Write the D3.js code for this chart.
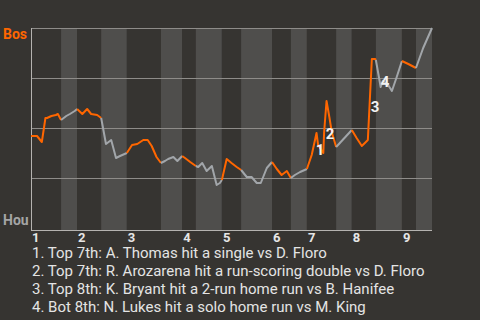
<!DOCTYPE html>
<html lang="en">
<head>
<meta charset="UTF-8">
<title>Win probability</title>
<script src="https://d3js.org/d3.v7.min.js"></script>
<style>
  html, body { margin: 0; padding: 0; background: #363431; }
  svg { display: block; font-family: Roboto, "Noto Sans", sans-serif; }
</style>
</head>
<body>
<svg width="480" height="320"></svg>
<script>
// innings and where each half-inning starts (game progress, 0-100)
var innings = ['1', '2', '3', '4', '5', '6', '7', '8', '9'];
var halfStarts = [0, 7.5, 11.5, 17.5, 23.9, 32.4, 37.7, 41.1, 47.6, 52.4, 60.1, 64.8, 68.8, 76.1, 80.0, 86.0, 92.5, 96.0, 100];

// win probability for Bos, per event
var progress = [0, 1.5, 2.7, 3.6, 4.0, 5.1, 6.2, 6.7, 7.5, 8.8, 9.7, 10.9, 11.5, 12.8, 14.0, 15.0, 16.5, 17.5,
  18.7, 20.0, 21.2, 22.2, 23.9, 25.2, 26.5, 28.0, 29.1, 30.1, 31.3, 32.4, 33.4, 34.2, 35.5, 36.5, 37.7,
  38.4, 39.7, 41.1, 41.7, 42.7, 43.8, 45.1, 46.3, 47.1, 47.6, 48.8, 50.0, 51.3, 52.4, 53.8, 55.0, 56.3,
  57.3, 58.8, 60.1, 61.3, 62.5, 63.8, 64.8, 65.8, 67.1, 68.8, 70.0, 71.2, 71.6, 72.9, 73.1, 73.7, 74.4,
  75.0, 76.1, 80.0, 81.2, 82.5, 84.0, 85.0, 85.8, 86.0, 87.2, 87.7, 88.9, 90.0, 91.2, 92.5, 94.1, 96.0,
  97.8, 100];
var winProb = [0.46, 0.46, 0.43, 0.55, 0.55, 0.56, 0.565, 0.57, 0.54, 0.56, 0.57, 0.585, 0.595, 0.57, 0.595, 0.57, 0.565, 0.55,
  0.42, 0.44, 0.35, 0.36, 0.375, 0.415, 0.42, 0.44, 0.44, 0.41, 0.355, 0.325, 0.335, 0.345, 0.355, 0.335, 0.36,
  0.35, 0.33, 0.31, 0.305, 0.325, 0.285, 0.31, 0.215, 0.225, 0.24, 0.345, 0.325, 0.305, 0.29, 0.255, 0.255, 0.225,
  0.225, 0.30, 0.33, 0.295, 0.265, 0.285, 0.25, 0.265, 0.28, 0.295, 0.365, 0.475, 0.415, 0.375, 0.48, 0.635, 0.555,
  0.48, 0.405, 0.49, 0.45, 0.41, 0.44, 0.845, 0.845, 0.84, 0.705, 0.735, 0.72, 0.685, 0.755, 0.835, 0.82, 0.80,
  0.90, 1.0];

// key plays: label position on the chart
var playNums = ['1', '2', '3', '4'];
var playX = [72.1, 74.6, 85.8, 88.3];
var playY = [0.365, 0.4475, 0.58, 0.7075];
var playText = [
  '1. Top 7th: A. Thomas hit a single vs D. Floro',
  '2. Top 7th: R. Arozarena hit a run-scoring double vs D. Floro',
  '3. Top 8th: K. Bryant hit a 2-run home run vs B. Hanifee',
  '4. Bot 8th: N. Lukes hit a solo home run vs M. King'
];

var awayTeam = 'Bos', homeTeam = 'Hou';

var svg = d3.select('svg');
var orange = '#ff6600', grey = '#a2a6aa';

var x = d3.scaleLinear().domain([0, 100]).range([31, 432]);
var y = d3.scaleLinear().domain([0, 1]).range([228, 28]);
var plotBottom = 230;

// half-inning stripes
var halves = d3.range(halfStarts.length - 1).map(function (i) {
  return { i: i, start: halfStarts[i], end: halfStarts[i + 1], top: i % 2 === 0 };
});
svg.append('g').selectAll('rect')
  .data(halves)
  .enter().append('rect')
  .attr('x', function (d) { return x(d.start); })
  .attr('y', y(1))
  .attr('width', function (d) { return x(d.end) - x(d.start); })
  .attr('height', plotBottom - y(1))
  .attr('fill', function (d) { return d.top ? '#363431' : '#4f4e4c'; });

// gridlines
svg.append('g').selectAll('line')
  .data([0.25, 0.5, 0.75, 1])
  .enter().append('line')
  .attr('x1', x(0)).attr('x2', x(100))
  .attr('y1', function (d) { return Math.round(y(d)) + 0.5; })
  .attr('y2', function (d) { return Math.round(y(d)) + 0.5; })
  .attr('stroke', '#8e8c89').attr('stroke-width', 1);

// axes lines
svg.append('line')
  .attr('x1', x(0) + 0.5).attr('x2', x(0) + 0.5)
  .attr('y1', y(1)).attr('y2', plotBottom + 1)
  .attr('stroke', '#b5b3b0');
svg.append('line')
  .attr('x1', x(0)).attr('x2', x(100))
  .attr('y1', plotBottom + 0.5).attr('y2', plotBottom + 0.5)
  .attr('stroke', '#b5b3b0');

// win probability line, one path per half-inning
var pts = progress.map(function (p, i) { return [p, winProb[i]]; });
var line = d3.line()
  .x(function (d) { return x(d[0]); })
  .y(function (d) { return y(d[1]); });

svg.append('g').selectAll('path')
  .data(halves)
  .enter().append('path')
  .attr('d', function (d) {
    return line(pts.filter(function (p) { return p[0] >= d.start && p[0] <= d.end; }));
  })
  .attr('fill', 'none')
  .attr('stroke', function (d) { return d.top ? orange : grey; })
  .attr('stroke-width', 2)
  .attr('stroke-linejoin', 'round');

// play markers
svg.append('g').selectAll('text')
  .data(playNums)
  .enter().append('text')
  .attr('x', function (d, i) { return x(playX[i]); })
  .attr('y', function (d, i) { return y(playY[i]); })
  .attr('text-anchor', 'middle')
  .attr('font-size', 15)
  .attr('font-weight', 'bold')
  .attr('fill', '#f2f2f2')
  .text(function (d) { return d; });

// team labels
svg.append('text')
  .attr('x', 3).attr('y', 39)
  .attr('font-size', 14).attr('font-weight', 'bold')
  .attr('fill', orange)
  .text(awayTeam);
svg.append('text')
  .attr('x', 3).attr('y', 225)
  .attr('font-size', 14).attr('font-weight', 'bold')
  .attr('fill', '#a5a5a5')
  .text(homeTeam);

// inning labels
svg.append('g').selectAll('text')
  .data(innings)
  .enter().append('text')
  .attr('x', function (d, i) { return x(halfStarts[i * 2]) + 1; })
  .attr('y', 242)
  .attr('font-size', 13)
  .attr('font-weight', 'bold')
  .attr('fill', '#e6e6e6')
  .text(function (d) { return d; });

// play list
svg.append('g').selectAll('text')
  .data(playText)
  .enter().append('text')
  .attr('x', 32)
  .attr('y', function (d, i) { return 257.5 + i * 18; })
  .attr('font-size', 15)
  .attr('fill', '#e4e4e4')
  .text(function (d) { return d; });
</script>
</body>
</html>
